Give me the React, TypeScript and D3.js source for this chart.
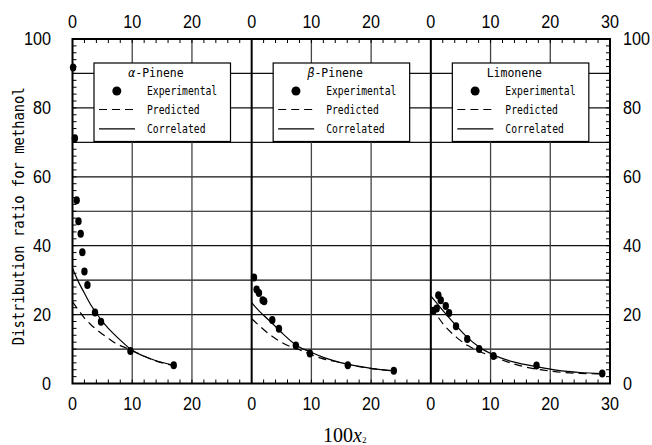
import React, { useEffect, useRef } from 'react';
import * as d3 from 'd3';

// panel titles (greek prefix drawn in italic)
const panelGreek = ['α', 'β', ''];
const panelNames = ['-Pinene', '-Pinene', 'Limonene'];

// experimental points [100x2, D]
const alphaExp = [[0.1, 91.7], [0.4, 71.2], [0.7, 53.2], [1.0, 47.1], [1.37, 43.5], [1.65, 38.1], [2.0, 32.5], [2.5, 28.6], [3.77, 20.6], [4.77, 17.9], [9.7, 9.4], [16.95, 5.3]];
const betaExp = [[0.39, 30.8], [0.83, 27.3], [1.22, 26.3], [1.84, 24.2], [2.1, 23.9], [3.45, 18.4], [4.57, 15.9], [7.4, 11.0], [9.75, 8.7], [16.1, 5.3], [23.8, 3.7]];
const limoExp = [[0.42, 21.1], [0.98, 21.8], [1.26, 25.6], [1.66, 24.2], [2.5, 22.5], [3.05, 20.5], [4.22, 16.6], [6.1, 12.9], [8.1, 10.0], [10.5, 8.0], [17.7, 5.2], [28.7, 2.9]];

// predicted (dashed) curves
const alphaPred = [[0, 23.7], [1, 21.3], [2, 19.0], [3, 17.2], [4, 15.7], [6, 13.1], [7, 11.9], [9, 10.3], [10, 9.6], [12, 7.9], [14, 6.5], [17, 5.2]];
const betaPred = [[0, 18.8], [1.4, 16.6], [2.8, 14.5], [4.2, 12.8], [5.6, 11.4], [8.4, 9.5], [11.7, 7.3], [14.8, 6.1], [18, 4.9], [21, 4.1], [23.8, 3.6]];
const limoPred = [[0, 22.2], [1, 19.8], [2.1, 17.2], [4.3, 13.4], [6.2, 11.0], [8.2, 9.3], [11, 7.4], [14.9, 5.2], [20.5, 3.5], [25, 2.9], [28.7, 2.8]];

// correlated (solid) curves
const alphaCorr = [[0, 33.5], [1, 29.5], [2, 26.2], [3, 23.0], [4, 20.4], [5, 18.0], [6, 16.0], [8, 12.6], [10, 9.6], [12, 7.9], [14, 6.6], [17, 5.3]];
const betaCorr = [[0, 23.5], [1, 21.5], [2, 19.8], [3.6, 17.2], [5, 14.8], [7.4, 11.2], [9.75, 9.2], [12, 7.6], [16, 5.6], [20, 4.4], [23.8, 3.7]];
const limoCorr = [[0, 25.4], [1, 23.3], [2, 21.2], [3, 19.2], [4.2, 16.9], [6.1, 13.4], [8.1, 10.6], [10.5, 8.3], [14, 6.2], [17.7, 4.9], [21, 3.9], [25, 3.2], [28.7, 2.9]];

const expSets = [alphaExp, betaExp, limoExp];
const predSets = [alphaPred, betaPred, limoPred];
const corrSets = [alphaCorr, betaCorr, limoCorr];

const xTicks = [0, 10, 20];
const yTicks = [0, 20, 40, 60, 80, 100];
const legendItems = ['Experimental', 'Predicted', 'Correlated'];

const Chart = () => {
  const svgRef = useRef<SVGSVGElement>(null);

  useEffect(() => {
    const svg = d3.select(svgRef.current);
    svg.selectAll('*').remove();

    const left = 72.5;
    const right = 610;
    const top = 39;
    const bottom = 383.5;
    const pw = (right - left) / 3;
    const tickFont = 'Liberation Sans, Arial, sans-serif';
    const monoFont = 'DejaVu Sans Mono, monospace';
    const digitW = 9; // narrow digits like the original

    const y = d3.scaleLinear().domain([0, 100]).range([bottom, top]);

    // horizontal grid lines every 10
    svg.append('g').selectAll('line').data(d3.range(10, 100, 10)).join('line')
      .attr('x1', left).attr('x2', right)
      .attr('y1', (d) => y(d)).attr('y2', (d) => y(d))
      .attr('stroke', '#111').attr('stroke-width', 1.2);

    // y minor ticks (left and right)
    const yMinor = d3.range(2, 100, 2);
    svg.append('g').selectAll('line').data(yMinor).join('line')
      .attr('x1', left).attr('x2', left + 4)
      .attr('y1', (d) => y(d)).attr('y2', (d) => y(d))
      .attr('stroke', '#000').attr('stroke-width', 1);
    svg.append('g').selectAll('line').data(yMinor).join('line')
      .attr('x1', right - 4).attr('x2', right)
      .attr('y1', (d) => y(d)).attr('y2', (d) => y(d))
      .attr('stroke', '#000').attr('stroke-width', 1);

    // y labels
    svg.append('g').selectAll('text').data(yTicks).join('text')
      .attr('x', 51).attr('y', (d) => y(d)).attr('dy', '0.36em')
      .attr('text-anchor', 'end')
      .attr('textLength', (d) => String(d).length * digitW)
      .attr('lengthAdjust', 'spacingAndGlyphs')
      .style('font-family', tickFont).style('font-size', '18px')
      .text((d) => d);
    svg.append('g').selectAll('text').data(yTicks).join('text')
      .attr('x', 623).attr('y', (d) => y(d)).attr('dy', '0.36em')
      .attr('text-anchor', 'start')
      .attr('textLength', (d) => String(d).length * digitW)
      .attr('lengthAdjust', 'spacingAndGlyphs')
      .style('font-family', tickFont).style('font-size', '18px')
      .text((d) => d);

    const line = d3.line<number[]>().curve(d3.curveMonotoneX);

    for (let p = 0; p < 3; p++) {
      const x0 = left + p * pw;
      const x = d3.scaleLinear().domain([0, 30]).range([x0, x0 + pw]);
      const g = svg.append('g');

      // vertical grid lines at 10 and 20
      g.selectAll('.vgrid').data([10, 20]).join('line')
        .attr('class', 'vgrid')
        .attr('x1', (d) => x(d)).attr('x2', (d) => x(d))
        .attr('y1', top).attr('y2', bottom)
        .attr('stroke', '#444').attr('stroke-width', 1.3);

      // x minor ticks top and bottom
      const xMinor = d3.range(2, 30, 2);
      g.selectAll('.xtb').data(xMinor).join('line')
        .attr('class', 'xtb')
        .attr('x1', (d) => x(d)).attr('x2', (d) => x(d))
        .attr('y1', bottom - 4).attr('y2', bottom)
        .attr('stroke', '#000').attr('stroke-width', 1);
      g.selectAll('.xtt').data(xMinor).join('line')
        .attr('class', 'xtt')
        .attr('x1', (d) => x(d)).attr('x2', (d) => x(d))
        .attr('y1', top).attr('y2', top + 4)
        .attr('stroke', '#000').attr('stroke-width', 1);

      // x tick labels
      const labels = p === 2 ? [...xTicks, 30] : xTicks;
      g.selectAll('.xlb').data(labels).join('text')
        .attr('class', 'xlb')
        .attr('x', (d) => x(d)).attr('y', 410)
        .attr('text-anchor', 'middle')
        .attr('textLength', (d) => String(d).length * digitW)
        .attr('lengthAdjust', 'spacingAndGlyphs')
        .style('font-family', tickFont).style('font-size', '18px')
        .text((d) => d);
      g.selectAll('.xlt').data(labels).join('text')
        .attr('class', 'xlt')
        .attr('x', (d) => x(d)).attr('y', 28)
        .attr('text-anchor', 'middle')
        .attr('textLength', (d) => String(d).length * digitW)
        .attr('lengthAdjust', 'spacingAndGlyphs')
        .style('font-family', tickFont).style('font-size', '18px')
        .text((d) => d);

      // panel divider
      if (p > 0) {
        g.append('line')
          .attr('x1', x0).attr('x2', x0).attr('y1', top).attr('y2', bottom)
          .attr('stroke', '#000').attr('stroke-width', 2);
      }

      const toPx = (d: number[]) => [x(d[0]), y(d[1])] as [number, number];

      g.append('path')
        .attr('d', line(predSets[p].map(toPx)))
        .attr('fill', 'none').attr('stroke', '#000').attr('stroke-width', 1.2)
        .attr('stroke-dasharray', '8 5');
      g.append('path')
        .attr('d', line(corrSets[p].map(toPx)))
        .attr('fill', 'none').attr('stroke', '#000').attr('stroke-width', 1.2);

      g.selectAll('.pt').data(expSets[p]).join('ellipse')
        .attr('class', 'pt')
        .attr('cx', (d) => x(d[0])).attr('cy', (d) => y(d[1]))
        .attr('rx', 3.2).attr('ry', 4)
        .attr('fill', '#000');

      // legend
      const lx = x0 + 21.5;
      const lg = g.append('g');
      lg.append('rect')
        .attr('x', lx).attr('y', 63).attr('width', 136.5).attr('height', 78.5)
        .attr('fill', '#fff').attr('stroke', '#000').attr('stroke-width', 1.2);
      const title = lg.append('text')
        .attr('x', lx + 62).attr('y', 76.5)
        .attr('text-anchor', 'middle')
        .style('font-family', monoFont).style('font-size', '11.5px');
      if (panelGreek[p]) {
        title.append('tspan').style('font-style', 'italic').text(panelGreek[p]);
      }
      title.append('tspan').text(panelNames[p]);

      lg.append('circle').attr('cx', lx + 22.8).attr('cy', 91).attr('r', 4.5).attr('fill', '#000');
      lg.append('line')
        .attr('x1', lx + 5).attr('x2', lx + 41).attr('y1', 109.5).attr('y2', 109.5)
        .attr('stroke', '#000').attr('stroke-width', 1.2).attr('stroke-dasharray', '8 5');
      lg.append('line')
        .attr('x1', lx + 5).attr('x2', lx + 41).attr('y1', 128.8).attr('y2', 128.8)
        .attr('stroke', '#000').attr('stroke-width', 1.2);

      lg.selectAll('.lt').data(legendItems).join('text')
        .attr('class', 'lt')
        .attr('x', lx + 53).attr('y', (_, i) => 95 + i * 19)
        .attr('textLength', (d) => d.length * 5.85)
        .attr('lengthAdjust', 'spacingAndGlyphs')
        .style('font-family', monoFont).style('font-size', '12px')
        .text((d) => d);
    }

    // outer frame
    svg.append('rect')
      .attr('x', left).attr('y', top).attr('width', right - left).attr('height', bottom - top)
      .attr('fill', 'none').attr('stroke', '#000').attr('stroke-width', 2);

    // axis titles
    svg.append('text')
      .attr('transform', `translate(23.5,${(top + bottom) / 2 + 5}) rotate(-90)`)
      .attr('text-anchor', 'middle')
      .attr('textLength', 258)
      .attr('lengthAdjust', 'spacingAndGlyphs')
      .style('font-family', monoFont).style('font-size', '15px')
      .text('Distribution ratio for methanol');

    const xt = svg.append('text')
      .attr('x', 323).attr('y', 442)
      .style('font-family', 'Liberation Serif, Times New Roman, serif').style('font-size', '20px');
    xt.append('tspan').text('100');
    xt.append('tspan').style('font-style', 'italic').text('x');
    xt.append('tspan').attr('dy', 1).style('font-size', '9px').text('2');
  }, []);

  return (
    <svg ref={svgRef} width={652} height={445}
      style={{ position: 'absolute', left: 0, top: 0, background: '#fff' }} />
  );
};

export default function App() {
  return <Chart />;
}
